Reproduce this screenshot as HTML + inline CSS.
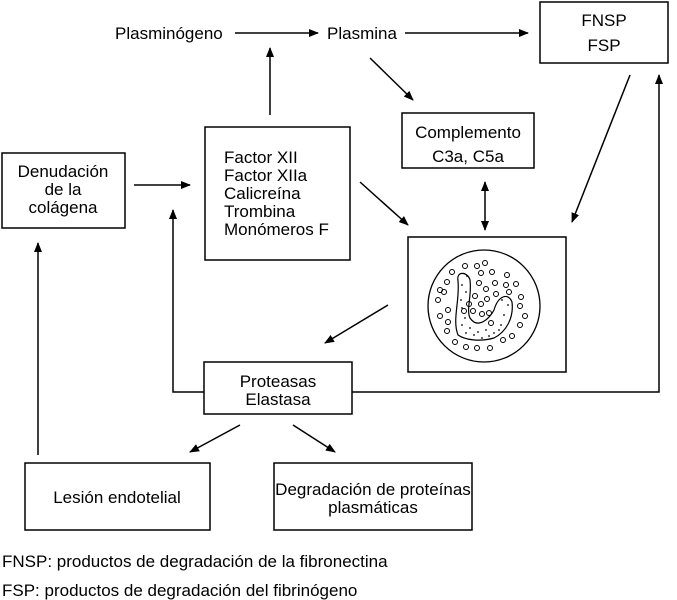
<!DOCTYPE html>
<html><head><style>body{margin:0;background:#fff}svg{display:block}text{font-family:"Liberation Sans",sans-serif;font-size:17px;fill:#000}</style></head>
<body>
<svg width="677" height="600" viewBox="0 0 677 600" xmlns="http://www.w3.org/2000/svg">
<defs><marker id="a" markerWidth="10" markerHeight="8" refX="9" refY="4" orient="auto" markerUnits="userSpaceOnUse"><path d="M0,0L10,4L0,8z" fill="#000"/></marker>
<marker id="b" markerWidth="10" markerHeight="8" refX="1" refY="4" orient="auto" markerUnits="userSpaceOnUse"><path d="M10,0L0,4L10,8z" fill="#000"/></marker></defs>
<g stroke="#000" stroke-width="1.5" fill="none">
<rect x="540" y="2" width="128" height="61"/>
<rect x="402" y="113" width="132" height="55"/>
<rect x="205" y="127" width="145" height="133"/>
<rect x="2" y="153" width="123" height="75"/>
<rect x="408" y="237" width="158" height="135"/>
<rect x="204" y="362" width="148" height="52"/>
<rect x="25" y="463" width="185" height="67"/>
<rect x="274" y="463" width="198" height="67"/>
<g marker-end="url(#a)">
<line x1="235" y1="33" x2="318" y2="33"/>
<line x1="405" y1="33" x2="528" y2="33"/>
<line x1="270" y1="115" x2="270" y2="48"/>
<line x1="370" y1="58" x2="413" y2="100"/>
<line x1="134" y1="185" x2="190" y2="185"/>
<line x1="360" y1="182" x2="408" y2="225"/>
<line x1="485" y1="182" x2="485" y2="230" marker-start="url(#b)"/>
<line x1="630" y1="75" x2="572" y2="222"/>
<line x1="388" y1="305" x2="325" y2="343"/>
<polyline points="352,392 659,392 659,75"/>
<polyline points="204,392 173,392 173,210"/>
<line x1="38" y1="455" x2="38" y2="243"/>
<line x1="240" y1="425" x2="190" y2="452"/>
<line x1="293" y1="425" x2="335" y2="452"/>
</g>
<circle cx="484" cy="306" r="56" stroke-width="1.3"/>
<path d="M458,281 C456,270 468,272 470,280 C472,295 466,310 470,318 C478,330 490,318 494,310 C498,296 508,292 512,302 C514,318 506,332 494,338 C480,342 465,340 458,335 C452,320 460,300 458,281z" stroke-width="1.2"/>
</g>
<g fill="none" stroke="#000" stroke-width="1">
<circle cx="452" cy="272" r="2.5"/><circle cx="465" cy="266" r="2.5"/><circle cx="477" cy="266" r="2.5"/><circle cx="485" cy="263" r="2.5"/><circle cx="481" cy="273" r="2.5"/><circle cx="492" cy="272" r="2.5"/><circle cx="507" cy="275" r="2.5"/><circle cx="447" cy="282" r="2.5"/><circle cx="440" cy="290" r="2.5"/><circle cx="444" cy="292" r="2.5"/><circle cx="479" cy="283" r="2.5"/><circle cx="495" cy="283" r="2.5"/><circle cx="506" cy="285" r="2.5"/><circle cx="516" cy="284" r="2.5"/><circle cx="486" cy="289" r="2.5"/><circle cx="509" cy="292" r="2.5"/><circle cx="438" cy="300" r="2.5"/><circle cx="475" cy="296" r="2.5"/><circle cx="496" cy="294" r="2.5"/><circle cx="487" cy="299" r="2.5"/><circle cx="521" cy="297" r="2.5"/><circle cx="469" cy="304" r="2.5"/><circle cx="481" cy="304" r="2.5"/><circle cx="448" cy="310" r="2.5"/><circle cx="464" cy="311" r="2.5"/><circle cx="473" cy="311" r="2.5"/><circle cx="482" cy="314" r="2.5"/><circle cx="489" cy="313" r="2.5"/><circle cx="520" cy="306" r="2.5"/><circle cx="440" cy="316" r="2.5"/><circle cx="525" cy="316" r="2.5"/><circle cx="448" cy="322" r="2.5"/><circle cx="491" cy="323" r="2.5"/><circle cx="520" cy="325" r="2.5"/><circle cx="447" cy="331" r="2.5"/><circle cx="503" cy="340" r="2.5"/><circle cx="512" cy="336" r="2.5"/><circle cx="455" cy="342" r="2.5"/><circle cx="466" cy="347" r="2.5"/><circle cx="477" cy="348" r="2.5"/><circle cx="490" cy="348" r="2.5"/>
</g>
<g fill="#000">
<circle cx="462" cy="285" r="0.9"/><circle cx="466" cy="292" r="0.9"/><circle cx="461" cy="300" r="0.9"/><circle cx="465" cy="318" r="0.9"/><circle cx="462" cy="325" r="0.9"/><circle cx="470" cy="328" r="0.9"/><circle cx="478" cy="332" r="0.9"/><circle cx="486" cy="330" r="0.9"/><circle cx="494" cy="333" r="0.9"/><circle cx="501" cy="325" r="0.9"/><circle cx="504" cy="315" r="0.9"/><circle cx="508" cy="305" r="0.9"/><circle cx="502" cy="300" r="0.9"/><circle cx="474" cy="335" r="0.9"/><circle cx="466" cy="333" r="0.9"/><circle cx="482" cy="338" r="0.9"/><circle cx="499" cy="330" r="0.9"/><circle cx="462" cy="308" r="0.9"/><circle cx="467" cy="276" r="0.9"/><circle cx="489" cy="336" r="0.9"/>
</g>
<text x="115" y="39">Plasminógeno</text>
<text x="327" y="39">Plasmina</text>
<text x="604" y="26" text-anchor="middle">FNSP</text>
<text x="604" y="51" text-anchor="middle">FSP</text>
<text x="468" y="138" text-anchor="middle">Complemento</text>
<text x="468" y="162" text-anchor="middle">C3a, C5a</text>
<text x="224" y="163">Factor XII</text>
<text x="224" y="181">Factor XIIa</text>
<text x="224" y="199">Calicreína</text>
<text x="224" y="217">Trombina</text>
<text x="224" y="235">Monómeros F</text>
<text x="63" y="177" text-anchor="middle">Denudación</text>
<text x="63" y="195" text-anchor="middle">de la</text>
<text x="63" y="213" text-anchor="middle">colágena</text>
<text x="278" y="387" text-anchor="middle">Proteasas</text>
<text x="278" y="405" text-anchor="middle">Elastasa</text>
<text x="117" y="503" text-anchor="middle">Lesión endotelial</text>
<text x="373" y="495" text-anchor="middle">Degradación de proteínas</text>
<text x="373" y="513" text-anchor="middle">plasmáticas</text>
<text x="2" y="567">FNSP: productos de degradación de la fibronectina</text>
<text x="2" y="596">FSP: productos de degradación del fibrinógeno</text>
</svg>
</body></html>
